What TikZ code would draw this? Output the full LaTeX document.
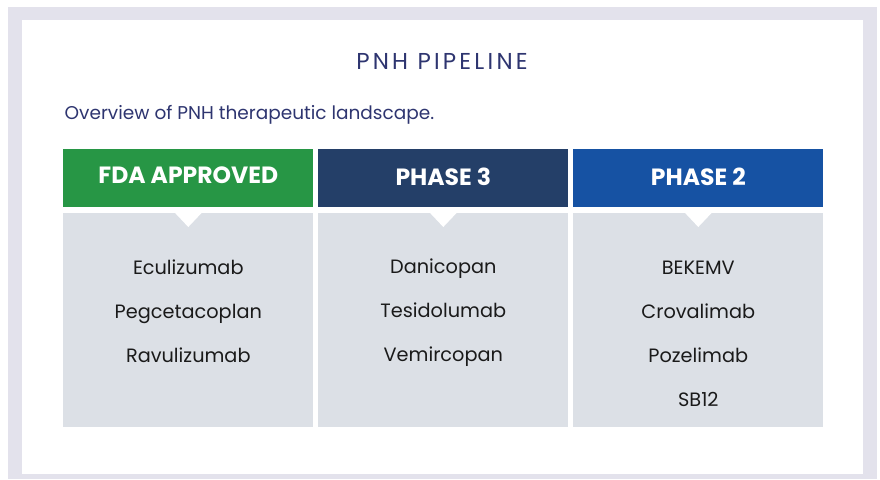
\documentclass[tikz,border=0pt]{standalone}
\usepackage{fontspec}
\setmainfont{Poppins}
\definecolor{framegray}{HTML}{E3E2EC}
\definecolor{bodygray}{HTML}{DCE0E6}
\definecolor{fdagreen}{HTML}{279645}
\definecolor{phasenavy}{HTML}{243F68}
\definecolor{phaseblue}{HTML}{1652A3}
\definecolor{titleblue}{HTML}{2E3570}
\definecolor{drugtext}{HTML}{1A1A1A}

\begin{document}
\begin{tikzpicture}[x=1pt,y=-1pt,
    title/.style={text=titleblue,anchor=base,font=\fontsize{23}{27}\selectfont\addfontfeatures{LetterSpace=14}},
    subtitle/.style={text=titleblue,font=\fontsize{18.5}{22}\selectfont,anchor=base west,inner sep=0pt},
    hdr/.style={text=white,anchor=base,font=\bfseries\fontsize{23.5}{27}\selectfont},
    drug/.style={text=drugtext,anchor=base,font=\fontsize{19.3}{23}\selectfont}]
      \useasboundingbox (0,0) rectangle (880,479);
      % frame and panel
      \fill[framegray] (8.3,6.7) rectangle (876.7,479);
      \fill[white] (21.7,20) rectangle (863.3,474.3);
      \node[title] (title) at (442,69.3) {PNH PIPELINE};
      \node[subtitle] (sub) at (64.5,119.3) {Overview of PNH therapeutic landscape.};
      % columns
      \foreach \x/\c/\t/\b [count=\i] in {63.3/fdagreen/FDA APPROVED/183.5,318.3/phasenavy/PHASE 3/185.5,573.3/phaseblue/PHASE 2/185.2} {
        \fill[\c] (\x,149.3) rectangle ++(250,58);
        \fill[bodygray] (\x,213.3) rectangle ++(250,213.4);
        \fill[white] (\x+108,209) -- ++(34,0) -- ++(-17,18) -- cycle;
        \node[hdr] (head\i) at (\x+125,\b) {\t};
      }
      % drugs
      \node[drug] (ecu) at (188.3,274.3) {Eculizumab};
      \node[drug] (peg) at (188.3,318.3) {Pegcetacoplan};
      \node[drug] (rav) at (188.3,362.3) {Ravulizumab};
      \node[drug] (dan) at (443.3,273.3) {Danicopan};
      \node[drug] (tes) at (443.3,317.3) {Tesidolumab};
      \node[drug] (vem) at (443.3,361.3) {Vemircopan};
      \node[drug] (bek) at (698.3,274.3) {BEKEMV};
      \node[drug] (cro) at (698.3,318.3) {Crovalimab};
      \node[drug] (poz) at (698.3,362.3) {Pozelimab};
      \node[drug] (sb) at (698.3,406.5) {SB12};
     \end{tikzpicture}
\end{document}
